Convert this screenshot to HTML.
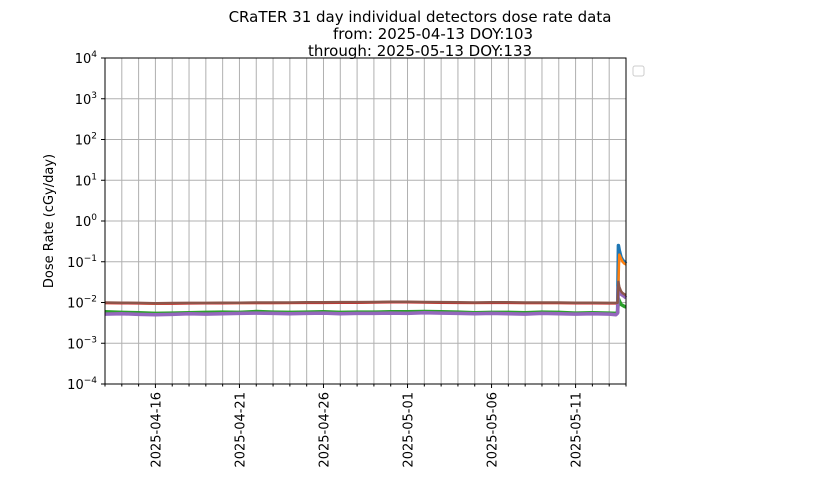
<!DOCTYPE html>
<html><head><meta charset="utf-8"><style>
body{margin:0;background:#fff}
svg{font-family:"DejaVu Sans","Liberation Sans",sans-serif}
</style></head><body>
<svg id="c" width="840" height="480" xmlns="http://www.w3.org/2000/svg">
<rect width="840" height="480" fill="#fff"/>
<g font-size="15" text-anchor="middle" fill="#000">
<text x="420" y="22">CRaTER 31 day individual detectors dose rate data</text>
<text x="433" y="39">from: 2025-04-13 DOY:103</text>
<text x="420" y="56">through: 2025-05-13 DOY:133</text>
</g>
<g id="grid"></g><g id="series"></g><g id="axes"></g>
<text x="53" y="221" font-size="13" text-anchor="middle" transform="rotate(-90 53 221)">Dose Rate (cGy/day)</text>
<rect x="633" y="66" width="11" height="10" rx="2" fill="#fff" stroke="#ccc"/>
</svg>
<script>
const days = [0,1,2,3,4,5,6,7,8,9,10,11,12,13,14,15,16,17,18,19,20,21,22,23,24,25,26,27,28,29,30,30.4,30.5,30.55,30.6,30.7,30.8,30.9,31];
const blue   = [0.0056,0.0055,0.0054,0.0052,0.0053,0.0055,0.0054,0.0056,0.0055,0.0057,0.0056,0.0055,0.0056,0.0057,0.0055,0.0056,0.0056,0.0057,0.0056,0.0058,0.0057,0.0056,0.0055,0.0056,0.0055,0.0054,0.0056,0.0055,0.0054,0.0055,0.0054,0.0053,0.0058,0.25,0.19,0.13,0.11,0.1,0.09];
const orange = [0.0098,0.0097,0.0096,0.0094,0.0095,0.0096,0.0096,0.0097,0.0097,0.0098,0.0098,0.0098,0.0099,0.0099,0.0100,0.0100,0.0101,0.0102,0.0102,0.0101,0.0100,0.0099,0.0098,0.0099,0.0099,0.0098,0.0098,0.0098,0.0097,0.0097,0.0096,0.0096,0.0097,0.03,0.15,0.12,0.1,0.09,0.085];
const green  = [0.0059,0.0057,0.0056,0.0054,0.0055,0.0056,0.0057,0.0058,0.0057,0.0060,0.0058,0.0057,0.0058,0.0059,0.0057,0.0058,0.0058,0.0059,0.0059,0.0060,0.0059,0.0058,0.0056,0.0057,0.0057,0.0056,0.0058,0.0057,0.0055,0.0056,0.0055,0.0054,0.0057,0.0125,0.011,0.009,0.0085,0.008,0.0078];
const red    = [0.0097,0.0096,0.0095,0.0094,0.0094,0.0095,0.0096,0.0096,0.0097,0.0097,0.0097,0.0098,0.0098,0.0098,0.0099,0.0099,0.0100,0.0101,0.0101,0.0100,0.0099,0.0098,0.0098,0.0098,0.0098,0.0097,0.0097,0.0097,0.0096,0.0096,0.0095,0.0095,0.0096,0.021,0.018,0.016,0.015,0.014,0.014];
const purple = [0.0052,0.0053,0.0051,0.0050,0.0051,0.0053,0.0052,0.0053,0.0054,0.0055,0.0054,0.0053,0.0054,0.0055,0.0053,0.0054,0.0054,0.0055,0.0054,0.0056,0.0055,0.0054,0.0053,0.0054,0.0053,0.0052,0.0054,0.0053,0.0052,0.0053,0.0052,0.0050,0.0055,0.024,0.019,0.016,0.015,0.014,0.013];
const brown  = [0.0100,0.0099,0.0098,0.0096,0.0097,0.0098,0.0098,0.0099,0.0099,0.0100,0.0100,0.0100,0.0101,0.0101,0.0102,0.0102,0.0103,0.0104,0.0104,0.0103,0.0102,0.0101,0.0100,0.0101,0.0101,0.0100,0.0100,0.0100,0.0099,0.0099,0.0098,0.0098,0.0099,0.032,0.024,0.019,0.017,0.016,0.015];
const xTickLabels = ["2025-04-16","2025-04-21","2025-04-26","2025-05-01","2025-05-06","2025-05-11"];
const xTickDays = [3,8,13,18,23,28];
const yExps = [-4,-3,-2,-1,0,1,2,3,4];

const L=105,R=626,T=58,B=384,NS="http://www.w3.org/2000/svg";
const xs=d=>L+(R-L)*d/31;
const ys=v=>B-(Math.log10(v)+4)/8*(B-T);
function mk(tag,attrs,parent){const e=document.createElementNS(NS,tag);for(const k in attrs)e.setAttribute(k,attrs[k]);parent.appendChild(e);return e;}
const grid=document.getElementById('grid'),axes=document.getElementById('axes'),ser=document.getElementById('series');
for(let d=1;d<31;d++){
  const g=mk('line',{x1:xs(d),x2:xs(d),y1:T,y2:B,stroke:'#b0b0b0','stroke-width':1},grid);
  
  
}
for(let d=0;d<=31;d++){
  const t=mk('line',{x1:xs(d),x2:xs(d),y1:B,y2:B+(xTickDays.includes(d)?4:2.5),stroke:'#000'},axes);
  
  
}
yExps.forEach(e=>{
  const y=ys(Math.pow(10,e));
  if(e>-4&&e<4){const g=mk('line',{x1:L,x2:R,y1:y,y2:y,stroke:'#b0b0b0'},grid);
  
  }
  mk('line',{x1:L-4,x2:L,y1:y,y2:y,stroke:'#000'},axes);
  const t=mk('text',{x:L-8,y:y+5,'font-size':13,'text-anchor':'end'},axes);
  
  
  t.textContent='10';
  const s=mk('tspan',{dy:-6,'font-size':9},t);s.textContent=String(e).replace('-','\u2212');
});
xTickDays.forEach((d,i)=>{
  const x=xs(d)+5,y=B+8;
  const t=mk('text',{x:x,y:y,'font-size':13,'text-anchor':'end',transform:`rotate(-90 ${x} ${y})`},axes);
  
  
  t.textContent=xTickLabels[i];
});
const series=[[blue,'#1f77b4','blue'],[orange,'#ff7f0e','orange'],[green,'#2ca02c','green'],[red,'#d62728','red'],[purple,'#9467bd','purple'],[brown,'#8c564b','brown']];
series.forEach(([vals,col,nm])=>{
  const p=mk('polyline',{points:vals.map((v,i)=>xs(days[i]).toFixed(1)+','+ys(v).toFixed(1)).join(' '),fill:'none',stroke:col,'stroke-width':(nm==='blue'||nm==='green'||nm==='purple')?3.5:2.5,'stroke-linejoin':'round'},ser);
  
  
});
const fr=mk('rect',{x:L,y:T,width:R-L,height:B-T,fill:'none',stroke:'#000','stroke-width':1},axes);


</script>
</body></html>
